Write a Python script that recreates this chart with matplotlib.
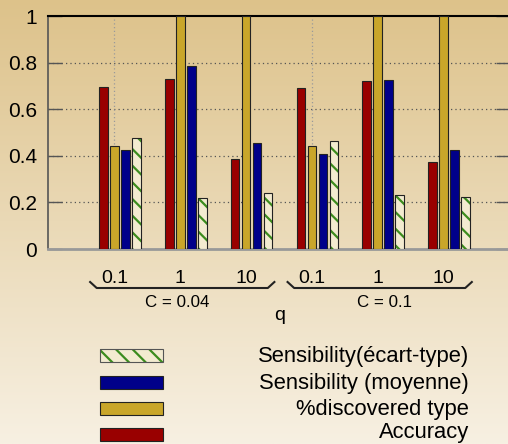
import numpy as np
import matplotlib
matplotlib.use("Agg")
import matplotlib.pyplot as plt
from matplotlib.patches import Rectangle
from matplotlib.transforms import blended_transform_factory

plt.rcParams['font.family'] = ['Liberation Sans', 'DejaVu Sans']
plt.rcParams['hatch.linewidth'] = 1.6

# data
q_labels = ["0.1", "1", "10", "0.1", "1", "10"]
c_labels = ["C = 0.04", "C = 0.1"]
accuracy = [0.694, 0.728, 0.385, 0.690, 0.721, 0.375]
discovered = [0.442, 1.0, 1.0, 0.442, 1.0, 1.0]
sens_mean = [0.424, 0.784, 0.456, 0.406, 0.727, 0.425]
sens_std = [0.478, 0.220, 0.240, 0.462, 0.233, 0.222]

RED = "#990000"
GOLD = "#C9A62A"
BLUE = "#00008A"
HATCH_FACE = "#F3EBD0"
HATCH_GREEN = "#3C8C1E"

W, H = 508, 444
fig = plt.figure(figsize=(W / 100, H / 100), dpi=100)

# gradient background
bg = fig.add_axes([0, 0, 1, 1], zorder=-10)
top = np.array([221, 194, 138]) / 255
bot = np.array([247, 240, 226]) / 255
t = np.linspace(0, 1, 256)[:, None, None]
grad = top * (1 - t) + bot * t
grad = np.repeat(grad, 2, axis=1)
bg.imshow(grad, aspect='auto', extent=[0, 1, 0, 1])
bg.axis('off')

ax = fig.add_axes([48 / W, 1 - 249 / H, 462 / W, 233 / H])
ax.set_facecolor('none')

x = np.arange(len(q_labels))
step = 0.167
bw = 0.13

ax.bar(x - step, accuracy, bw, color=RED, edgecolor='#222222', lw=0.8, zorder=3)
ax.bar(x, discovered, bw, color=GOLD, edgecolor='#222222', lw=0.8, zorder=3)
ax.bar(x + step, sens_mean, bw, color=BLUE, edgecolor='#222222', lw=0.8, zorder=3)
ax.bar(x + 2 * step, sens_std, bw, color=HATCH_FACE, edgecolor=HATCH_GREEN,
       hatch='\\\\', lw=0, zorder=3)
ax.bar(x + 2 * step, sens_std, bw, color='none', edgecolor='#222222', lw=0.8, zorder=4)

ax.set_xlim(-1.01, 6.01)
ax.set_ylim(0, 1)
ax.set_yticks([0, 0.2, 0.4, 0.6, 0.8, 1])
ax.set_yticklabels(["0", "0.2", "0.4", "0.6", "0.8", "1"])
ax.tick_params(axis='y', direction='in', length=10, width=1, color='#555555',
               labelsize=15, pad=8, right=True)
ax.set_xticks(x)
ax.set_xticklabels(q_labels)
ax.tick_params(axis='x', length=0, labelsize=14, pad=15)

for yv in [0.2, 0.4, 0.6, 0.8]:
    ax.axhline(yv, color='#555555', lw=0.9, ls=(0, (1, 2.5)), zorder=1)
for xv in x:
    ax.axvline(xv, color='#9a9a9a', lw=0.9, ls=(0, (1, 2)), zorder=1)

ax.spines['top'].set_color('black')
ax.spines['top'].set_linewidth(1.5)
ax.spines['left'].set_color('#555555')
ax.spines['left'].set_linewidth(1.2)
ax.spines['bottom'].set_color('#999999')
ax.spines['bottom'].set_linewidth(2)
ax.spines['right'].set_color('#555555')

# braces under each C group
tr = blended_transform_factory(ax.transData, fig.transFigure)
y_line = 1 - 288 / H
y_tip = 1 - 282 / H
for g in range(2):
    lo = x[3 * g] - 0.37
    hi = x[3 * g + 2] + 0.43
    ax.plot([lo, lo + 0.1, hi - 0.1, hi], [y_tip, y_line, y_line, y_tip],
            color='#222222', lw=1.5, transform=tr, clip_on=False)
    ax.text((lo + hi) / 2 - 0.08 + 0.16 * g, 1 - 302 / H, c_labels[g], transform=tr,
            ha='center', va='center', fontsize=12.2)

fig.text(280 / W, 1 - 316 / H, "q", ha='center', va='center', fontsize=14)

# legend
legend_items = [
    ("Sensibility(écart-type)", HATCH_FACE, True),
    ("Sensibility (moyenne)", BLUE, False),
    ("%discovered type", GOLD, False),
    ("Accuracy", RED, False),
]
row_y = [354, 381, 407.5, 433.5]
text_y = [356, 383, 409, 432]
for (label, col, hatched), yc, yt in zip(legend_items, row_y, text_y):
    y0 = 1 - (yc + 7.5) / H
    if hatched:
        fig.patches.append(Rectangle((100 / W, y0), 63 / W, 13 / H, transform=fig.transFigure,
                                     facecolor=col, edgecolor=HATCH_GREEN, hatch='\\\\', lw=0))
        fig.patches.append(Rectangle((100 / W, y0), 63 / W, 13 / H, transform=fig.transFigure,
                                     facecolor='none', edgecolor='#555555', lw=0.8))
    else:
        fig.patches.append(Rectangle((100 / W, y0), 63 / W, 13 / H, transform=fig.transFigure,
                                     facecolor=col, edgecolor='#222222', lw=0.8))
    fig.text(469 / W, 1 - yt / H, label, ha='right', va='center', fontsize=15.8)

fig.savefig("out.png", dpi=100)
